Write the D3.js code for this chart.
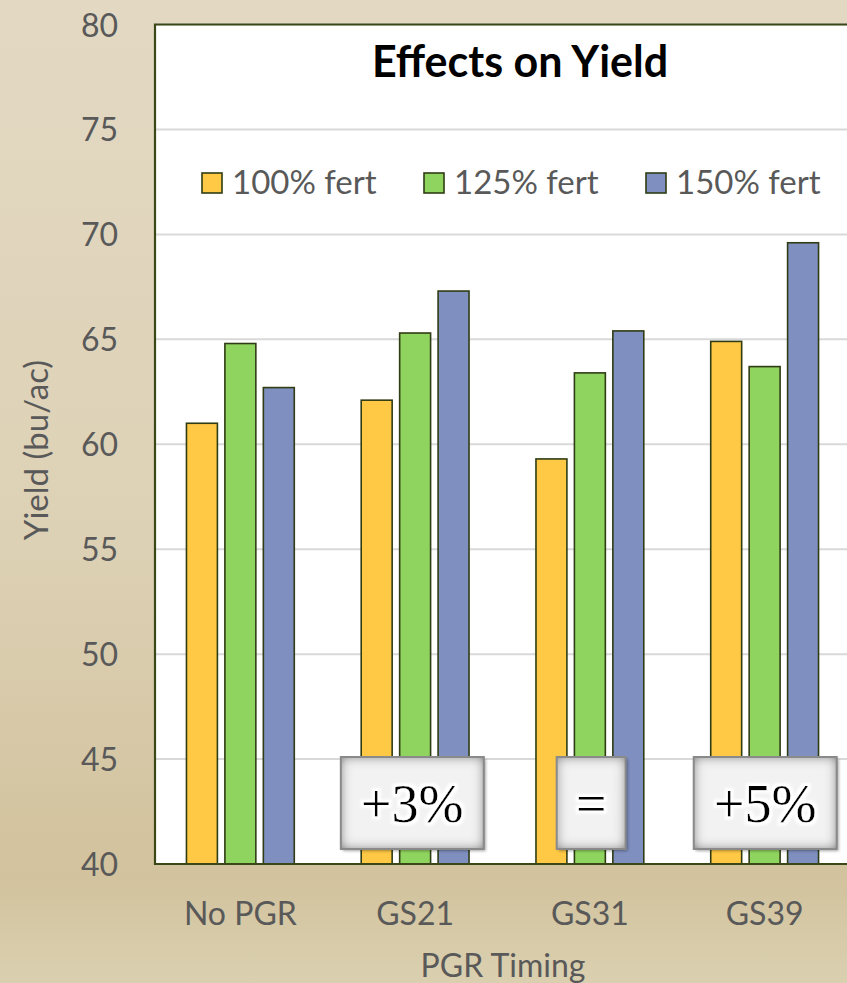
<!DOCTYPE html>
<html>
<head>
<meta charset="utf-8">
<script src="https://cdn.jsdelivr.net/npm/d3@7"></script>
<style>
  html, body { margin: 0; padding: 0; background: #ddd2b8; }
  svg { display: block; }
</style>
</head>
<body>
<svg id="chart" width="847" height="983"></svg>
<script>
// Yield by PGR timing and fertilizer rate
const categories = ["No PGR", "GS21", "GS31", "GS39"];
const seriesNames = ["100% fert", "125% fert", "150% fert"];
const fert100 = [61.0, 62.1, 59.3, 64.9];
const fert125 = [64.8, 65.3, 63.4, 63.7];
const fert150 = [62.7, 67.3, 65.4, 69.6];
const yTicks = [40, 45, 50, 55, 60, 65, 70, 75, 80];
// change relative to No PGR, shown in boxes over GS21, GS31, GS39
const notes = [
  { category: "GS21", label: "+3%" },
  { category: "GS31", label: "=" },
  { category: "GS39", label: "+5%" }
];

const colors = ["#ffc845", "#8fd45e", "#7f8fbf"];
const seriesValues = [fert100, fert125, fert150];

const svg = d3.select("#chart");
const W = 847, H = 983;
const plot = { left: 155, right: 850, top: 24.5, bottom: 864 };

// background
const defs = svg.append("defs");
const bg = defs.append("linearGradient").attr("id", "bg")
  .attr("x1", 0).attr("y1", 0).attr("x2", 0).attr("y2", 1);
bg.append("stop").attr("offset", "0%").attr("stop-color", "#e3d9c3");
bg.append("stop").attr("offset", "55%").attr("stop-color", "#ddd1b5");
bg.append("stop").attr("offset", "89%").attr("stop-color", "#d2c29d");
bg.append("stop").attr("offset", "100%").attr("stop-color", "#dad0b0");
svg.append("rect").attr("width", W).attr("height", H).attr("fill", "url(#bg)");

// inner shadow for the note boxes
const inset = defs.append("filter").attr("id", "inset")
  .attr("x", "-10%").attr("y", "-10%").attr("width", "125%").attr("height", "125%");
inset.append("feFlood").attr("flood-color", "#474747").attr("result", "flood");
inset.append("feComposite").attr("in", "flood").attr("in2", "SourceAlpha").attr("operator", "out").attr("result", "outside");
inset.append("feGaussianBlur").attr("in", "outside").attr("stdDeviation", 6).attr("result", "blur");
inset.append("feComposite").attr("in", "blur").attr("in2", "SourceAlpha").attr("operator", "in").attr("result", "shadow");
inset.append("feGaussianBlur").attr("in", "SourceAlpha").attr("stdDeviation", 1.5).attr("result", "dropBlur");
inset.append("feOffset").attr("in", "dropBlur").attr("dx", 2).attr("dy", 2).attr("result", "dropOff");
inset.append("feComponentTransfer").attr("in", "dropOff").attr("result", "drop")
  .append("feFuncA").attr("type", "linear").attr("slope", 0.35);
const merge = inset.append("feMerge");
merge.append("feMergeNode").attr("in", "drop");
merge.append("feMergeNode").attr("in", "SourceGraphic");
merge.append("feMergeNode").attr("in", "shadow");

// white halo for the note text
const halo = defs.append("filter").attr("id", "halo")
  .attr("x", "-20%").attr("y", "-20%").attr("width", "140%").attr("height", "140%");
halo.append("feMorphology").attr("in", "SourceAlpha").attr("operator", "dilate").attr("radius", 3).attr("result", "thick");
halo.append("feGaussianBlur").attr("in", "thick").attr("stdDeviation", 0.8).attr("result", "soft");
halo.append("feFlood").attr("flood-color", "#ffffff").attr("result", "white");
halo.append("feComposite").attr("in", "white").attr("in2", "soft").attr("operator", "in").attr("result", "glow");
const hm = halo.append("feMerge");
hm.append("feMergeNode").attr("in", "glow");
hm.append("feMergeNode").attr("in", "SourceGraphic");

// scales
const y = d3.scaleLinear().domain([40, 80]).range([plot.bottom, plot.top]);
const x0 = d3.scaleBand().domain(categories).range([plot.left, plot.right])
  .paddingInner(0.383).paddingOuter(0.18);
const x1 = d3.scaleBand().domain(seriesNames).range([0, x0.bandwidth()])
  .paddingInner(0.195).paddingOuter(0);

// plot area (runs off the right edge)
svg.append("rect")
  .attr("x", plot.left).attr("y", plot.top)
  .attr("width", W + 10 - plot.left).attr("height", plot.bottom - plot.top)
  .attr("fill", "#ffffff");

// gridlines
svg.append("g")
  .selectAll("line")
  .data(yTicks.filter(t => t > 40))
  .join("line")
  .attr("x1", plot.left).attr("x2", W + 10)
  .attr("y1", d => y(d)).attr("y2", d => y(d))
  .attr("stroke", "#d9d9d9").attr("stroke-width", 2);

// y axis labels
const yAxis = d3.axisLeft(y).tickValues(yTicks).tickSize(0).tickPadding(0);
const yg = svg.append("g").attr("transform", `translate(${plot.left - 37},0)`).call(yAxis);
yg.select(".domain").remove();
yg.selectAll("text")
  .attr("font-family", "Lato, sans-serif").attr("font-size", 32)
  .attr("fill", "#595959").attr("dy", "0.36em");

// bars
const groups = svg.append("g")
  .selectAll("g")
  .data(categories)
  .join("g")
  .attr("transform", d => `translate(${x0(d)},0)`);

groups.selectAll("rect")
  .data((c, i) => seriesNames.map((s, k) => ({ s, k, v: seriesValues[k][i] })))
  .join("rect")
  .attr("x", d => x1(d.s))
  .attr("width", x1.bandwidth())
  .attr("y", d => y(d.v))
  .attr("height", d => y(40) - y(d.v))
  .attr("fill", d => colors[d.k])
  .attr("stroke", "#2f3c14").attr("stroke-width", 1.6);

// plot frame: top, left and bottom edges
svg.append("path")
  .attr("d", `M${W + 10},${plot.top}H${plot.left}V${plot.bottom}H${W + 10}`)
  .attr("fill", "none").attr("stroke", "#3a4818").attr("stroke-width", 2.2);

// x axis labels
const xAxis = d3.axisBottom(x0).tickSize(0).tickPadding(0);
const xg = svg.append("g").attr("transform", `translate(0,${plot.bottom})`).call(xAxis);
xg.select(".domain").remove();
xg.selectAll("text")
  .attr("font-family", "Lato, sans-serif").attr("font-size", 32)
  .attr("fill", "#595959").attr("dy", null).attr("y", 61);

// axis titles
svg.append("text")
  .attr("x", 503).attr("y", 977)
  .attr("text-anchor", "middle")
  .attr("font-family", "Lato, sans-serif").attr("font-size", 32)
  .attr("fill", "#595959")
  .text("PGR Timing");

svg.append("text")
  .attr("transform", "translate(48,450) rotate(-90)")
  .attr("text-anchor", "middle")
  .attr("font-family", "Lato, sans-serif").attr("font-size", 33)
  .attr("fill", "#595959")
  .text("Yield (bu/ac)");

// title
svg.append("text")
  .attr("x", 520).attr("y", 77)
  .attr("text-anchor", "middle")
  .attr("font-family", "Lato, sans-serif").attr("font-weight", "bold").attr("font-size", 43)
  .attr("fill", "#000000")
  .text("Effects on Yield");

// legend
const legendX = [202, 424, 646];
const legend = svg.append("g")
  .selectAll("g")
  .data(seriesNames)
  .join("g")
  .attr("transform", (d, i) => `translate(${legendX[i]},173)`);
legend.append("rect")
  .attr("width", 20).attr("height", 20)
  .attr("fill", (d, i) => colors[i])
  .attr("stroke", "#2f3c14").attr("stroke-width", 1.6);
legend.append("text")
  .attr("x", 30).attr("y", 21)
  .attr("font-family", "Lato, sans-serif").attr("font-size", 33)
  .attr("fill", "#595959")
  .text(d => d);

// note boxes
const noteWidths = { "+3%": 143, "=": 69, "+5%": 143 };
const noteOffsets = { "+3%": -2.8, "=": 1.3, "+5%": 0.6 };
const ng = svg.append("g")
  .selectAll("g")
  .data(notes)
  .join("g")
  .attr("transform", d => {
    const cx = x0(d.category) + x0.bandwidth() / 2 + noteOffsets[d.label];
    return `translate(${cx},803)`;
  });
ng.append("rect")
  .attr("x", d => -noteWidths[d.label] / 2)
  .attr("y", -46)
  .attr("width", d => noteWidths[d.label])
  .attr("height", 92)
  .attr("fill", "#f2f2f2")
  .attr("filter", "url(#inset)");
ng.append("rect")
  .attr("x", d => -noteWidths[d.label] / 2)
  .attr("y", -46)
  .attr("width", d => noteWidths[d.label])
  .attr("height", 92)
  .attr("fill", "none")
  .attr("stroke", "#8a8a8a").attr("stroke-width", 2);
ng.append("text")
  .attr("text-anchor", "middle")
  .attr("y", 19)
  .attr("font-family", "'Liberation Serif', 'DejaVu Serif', serif")
  .attr("font-size", 54)
  .attr("fill", "#000000")
  .attr("filter", "url(#halo)")
  .text(d => d.label);
</script>
</body>
</html>
